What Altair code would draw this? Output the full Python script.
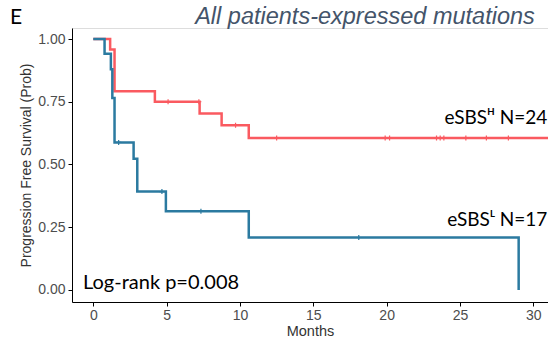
import altair as alt
import pandas as pd

# High group (eSBS^H, N=24) step points
hi_t = [0.0, 1.15, 1.45, 4.2, 7.25, 8.75, 10.6, 31.5]
hi_s = [1.0, 0.958, 0.792, 0.75, 0.703, 0.656, 0.606, 0.606]
hi_ct = [5.1, 7.2, 9.7, 12.5, 19.9, 20.2, 23.4, 23.65, 23.9, 25.4, 26.8, 28.3]
hi_cs = [0.75, 0.75, 0.656, 0.606, 0.606, 0.606, 0.606, 0.606, 0.606, 0.606, 0.606, 0.606]

# Low group (eSBS^L, N=17) step points
lo_t = [0.0, 0.77, 1.2, 1.3, 1.45, 2.75, 3.0, 4.95, 10.6, 29.0]
lo_s = [1.0, 0.941, 0.88, 0.765, 0.588, 0.523, 0.392, 0.314, 0.209, 0.0]
lo_ct = [1.73, 4.68, 7.34, 18.1]
lo_cs = [0.588, 0.392, 0.314, 0.209]

groups = ["High", "Low"]
colors = ["#FA5A60", "#2B7AA0"]

steps = pd.DataFrame(
    {"t": hi_t + lo_t, "s": hi_s + lo_s,
     "g": ["High"] * len(hi_t) + ["Low"] * len(lo_t)}
)
cens = pd.DataFrame(
    {"t": hi_ct + lo_ct, "s": hi_cs + lo_cs,
     "g": ["High"] * len(hi_ct) + ["Low"] * len(lo_ct)}
)

labels = pd.DataFrame({
    "t": [30.95, 30.95, -0.7],
    "s": [0.66, 0.255, 0.005],
    "txt": ["eSBSᴴ N=24", "eSBSᴸ N=17", "Log-rank p=0.008"],
    "al": ["right", "right", "left"],
})

xs = alt.Scale(domain=[-1.45, 31.0], nice=False, zero=False)
ys = alt.Scale(domain=[-0.048, 1.044], nice=False, zero=False)
cs = alt.Scale(domain=groups, range=colors)

xax = alt.Axis(values=[0, 5, 10, 15, 20, 25, 30], title="Months", grid=False,
               domainColor="black", tickColor="black", tickSize=4,
               labelColor="#4D4D4D", labelFontSize=14, labelFont="Liberation Sans",
               titleFont="Liberation Sans", titleFontSize=14.5, titleFontWeight="normal",
               titleColor="#333333", titlePadding=2, labelPadding=2)
yax = alt.Axis(values=[0, 0.25, 0.5, 0.75, 1.0], format=".2f",
               title="Progression Free Survival (Prob)", grid=False,
               domainColor="black", tickColor="black", tickSize=4,
               labelColor="#4D4D4D", labelFontSize=14, labelFont="Liberation Sans",
               titleFont="Liberation Sans", titleFontSize=14, titleFontWeight="normal",
               titleColor="#333333", titlePadding=4, labelPadding=3)

lines = alt.Chart(steps).mark_line(interpolate="step-after", strokeWidth=2.5, clip=True).encode(
    x=alt.X("t:Q", scale=xs, axis=xax),
    y=alt.Y("s:Q", scale=ys, axis=yax),
    color=alt.Color("g:N", scale=cs, legend=None),
)

marks = alt.Chart(cens).mark_point(
    shape="M-1,0L1,0M0,-1L0,1", filled=False, strokeWidth=1.2, size=25, opacity=1
).encode(
    x=alt.X("t:Q", scale=xs),
    y=alt.Y("s:Q", scale=ys),
    color=alt.Color("g:N", scale=cs, legend=None),
)

txt_r = alt.Chart(labels[labels.al == "right"]).mark_text(
    align="right", baseline="alphabetic", font="Lato", fontSize=19, color="black"
).encode(x=alt.X("t:Q", scale=xs), y=alt.Y("s:Q", scale=ys), text="txt:N")

txt_l = alt.Chart(labels[labels.al == "left"]).mark_text(
    align="left", baseline="alphabetic", font="Lato", fontSize=20, color="black"
).encode(x=alt.X("t:Q", scale=xs), y=alt.Y("s:Q", scale=ys), text="txt:N")

title = alt.Chart(pd.DataFrame({"a": [1]})).mark_text(
    align="center", baseline="middle", font="Liberation Sans", fontSize=23.5,
    fontStyle="italic", color="#44546A", text="All patients-expressed mutations"
).encode(x=alt.value(293), y=alt.value(-11))

panel = alt.Chart(pd.DataFrame({"a": [1]})).mark_text(
    align="left", baseline="middle", font="Lato", fontSize=21, color="black", text="E"
).encode(x=alt.value(-62), y=alt.value(-10))

chart = alt.layer(lines, marks, txt_r, txt_l, title, panel).properties(
    width=476, height=274,
    autosize=alt.AutoSizeParams(type="none"),
    padding={"left": 72, "top": 28, "right": 0, "bottom": 41},
).configure_view(stroke=None).configure(background="white")

chart.save("out.html", embed_options={"renderer": "svg", "actions": False})
